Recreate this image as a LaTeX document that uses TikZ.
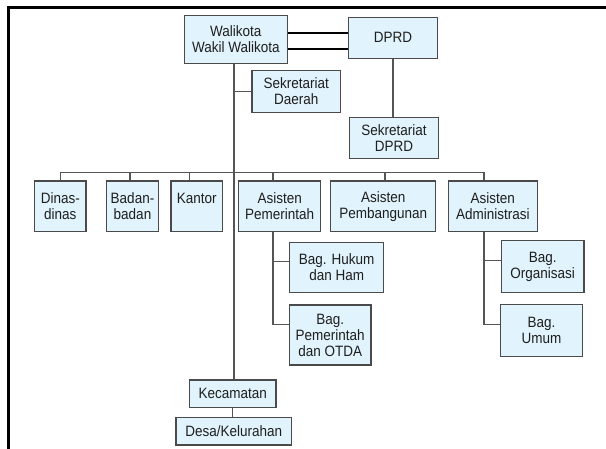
\documentclass[tikz,border=0pt]{standalone}
\usepackage{fontspec}
\setmainfont{Liberation Sans}[FakeStretch=0.9]
\definecolor{boxfill}{HTML}{E1F3FC}
\definecolor{boxline}{HTML}{4A4A4A}
\definecolor{txt}{HTML}{1E1E1E}
\definecolor{conn}{HTML}{555555}
\tikzset{
  orgbox/.style={draw=boxline, fill=boxfill, line width=1.2pt, inner sep=0pt,
    align=center, text=txt, font=\fontsize{15}{16}\selectfont},
  link/.style={draw=conn, line width=1.1pt},
  dbl/.style={draw=black, line width=2pt}
}
\begin{document}
\begin{tikzpicture}[x=1pt,y=-1pt]
\useasboundingbox (0,0) rectangle (606,449);
\fill[white] (0,0) rectangle (606,449);
% frame
\draw[line width=3.5pt, black] (8.5,449) -- (8.5,7.5) -- (606,7.5);

% boxes
\node[orgbox, minimum width=103pt, minimum height=47.6pt] (wk) at (235.8,39.5) {Walikota\\Wakil Walikota};
\node[orgbox, minimum width=88.6pt, minimum height=41pt] (dprd) at (393,37.8) {DPRD};
\node[orgbox, minimum width=88.7pt, minimum height=41.6pt] (sekda) at (296.3,91.5) {Sekretariat\\Daerah};
\node[orgbox, minimum width=88.6pt, minimum height=41pt] (sekdprd) at (394,137.8) {Sekretariat\\DPRD};

\node[orgbox, minimum width=51.3pt, minimum height=50.7pt] (dinas) at (60.3,206.3) {Dinas-\\dinas};
\node[orgbox, minimum width=51.6pt, minimum height=50.7pt] (badan) at (132.5,206.3) {Badan-\\badan};
\node[orgbox, minimum width=51.7pt, minimum height=50.7pt] (kantor) at (196.8,206.3) {Kantor\\\mbox{}};
\node[orgbox, minimum width=82pt, minimum height=50.7pt] (astpem) at (279.7,206.3) {Asisten\\Pemerintah};
\node[orgbox, minimum width=105pt, minimum height=50.7pt] (astbang) at (383.2,206.3) {Asisten\\Pembangunan};
\node[orgbox, minimum width=89pt, minimum height=50.7pt] (astadm) at (492.8,206.3) {Asisten\\Administrasi};

\node[orgbox, minimum width=94pt, minimum height=50pt] (hukum) at (336.7,267.3) {Bag. Hukum\\dan Ham};
\node[orgbox, minimum width=81.7pt, minimum height=60pt] (otda) at (330.2,335) {Bag.\\Pemerintah\\dan OTDA};
\node[orgbox, minimum width=82.7pt, minimum height=51.6pt] (org) at (542.7,266.5) {Bag.\\Organisasi};
\node[orgbox, minimum width=82.4pt, minimum height=52.4pt] (umum) at (541.5,330.5) {Bag.\\Umum};

\node[orgbox, minimum width=86.7pt, minimum height=27.7pt] (kec) at (232.7,393.8) {Kecamatan};
\node[orgbox, minimum width=115.3pt, minimum height=27.7pt] (desa) at (233.7,431.2) {Desa/Kelurahan};

% connector helper coordinates
\coordinate (sp) at (234,0);
\coordinate (d1) at (60.3,172.3);
\coordinate (d2) at (130,172.3);
\coordinate (d3) at (189.3,172.3);
\coordinate (d4) at (273,172.3);
\coordinate (d5) at (385,172.3);
\coordinate (d6) at (484,172.3);
\coordinate (bh) at (273,261.7);
\coordinate (bo) at (273,324.3);
\coordinate (ao) at (484,260.7);
\coordinate (au) at (484,324.3);

% Walikota - DPRD double line
\draw[dbl] ([yshift=6.8pt]wk.east) -- ([yshift=6.8pt]wk.east -| dprd.west);
\draw[dbl] ([yshift=-9.2pt]wk.east) -- ([yshift=-9.2pt]wk.east -| dprd.west);

% spine
\draw[link] (wk.south -| sp) -- (kec.north -| sp);
\draw[link] (sekda.west -| sp) -- (sekda.west);
\draw[link] (dprd.south) -- (dprd.south |- sekdprd.north);
\draw[link] (kec.south) -- (kec.south |- desa.north);

% bus and drops
\draw[link] (d1) -- (d6);
\draw[link] (d1) -- (d1 |- dinas.north);
\draw[link] (d2) -- (d2 |- badan.north);
\draw[link] (d3) -- (d3 |- kantor.north);
\draw[link] (d4) -- (d4 |- astpem.north);
\draw[link] (d5) -- (d5 |- astbang.north);
\draw[link] (d6) -- (d6 |- astadm.north);

% sub branches
\draw[link] (bo |- astpem.south) -- (bo) -- (bo -| otda.west);
\draw[link] (bh) -- (bh -| hukum.west);
\draw[link] (au |- astadm.south) -- (au) -- (au -| umum.west);
\draw[link] (ao) -- (ao -| org.west);
\end{tikzpicture}
\end{document}
